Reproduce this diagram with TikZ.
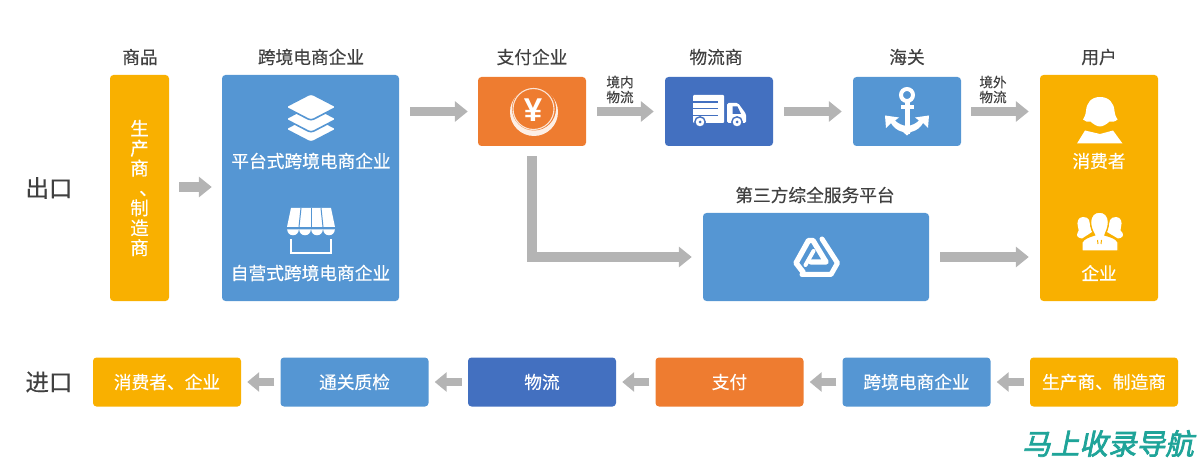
\documentclass[tikz,border=0pt]{standalone}
\usepackage{fontspec}
\usetikzlibrary{arrows.meta}
\setmainfont[FakeBold=0.35]{Noto Sans CJK SC}
\newfontfamily\latinbold[Scale=1]{Liberation Sans Bold}
\newfontfamily\brandfont[FakeSlant=0.2,FakeBold=2.5]{Noto Sans CJK SC}
\definecolor{skyblue}{HTML}{5596D3}
\definecolor{deepblue}{HTML}{4370C0}
\definecolor{burnt}{HTML}{EE7C30}
\definecolor{amber}{HTML}{F9B000}
\definecolor{flowgray}{HTML}{B4B4B4}
\definecolor{ink}{HTML}{404040}
\definecolor{teal}{HTML}{1FA499}
\tikzset{
  box/.style={rectangle,rounded corners=3.5pt,fill=#1,inner sep=0pt},
  heading/.style={inner sep=0pt,text=ink,font=\fontsize{17.7}{20}\selectfont},
  side/.style={inner sep=0pt,text=ink,font=\fontsize{23.5}{26}\selectfont},
  small/.style={inner sep=0pt,text=ink,align=center,font=\fontsize{13.6}{15}\selectfont},
  inbox/.style={inner sep=0pt,text=white,font=\fontsize{17.7}{20}\selectfont},
  flow/.style={draw=flowgray,line width=9.5pt,-{Triangle[length=13pt,width=20pt]},line join=miter},
  backflow/.style={draw=flowgray,line width=8.5pt,-{Triangle[length=12pt,width=19pt]},shorten <=6pt,shorten >=6pt},
  glyph/.style={fill=white,draw=none},
}
\begin{document}
\begin{tikzpicture}[x=1pt,y=-1pt]
\useasboundingbox (0,0) rectangle (1200,465);

% Export row: boxes
\node[box=amber,minimum width=59pt,minimum height=226pt] (maker) at (139.5,188) {};
\node[box=skyblue,minimum width=177pt,minimum height=226pt] (seller) at (310.5,188) {};
\node[box=burnt,minimum width=108pt,minimum height=69pt] (pay) at (532,111.5) {};
\node[box=deepblue,minimum width=108pt,minimum height=69pt] (carrier) at (719,111.5) {};
\node[box=skyblue,minimum width=108pt,minimum height=69pt] (customs) at (907,111.5) {};
\node[box=amber,minimum width=118pt,minimum height=226pt] (user) at (1099,188) {};
\node[box=skyblue,minimum width=226pt,minimum height=88pt] (third) at (816,257) {};

% Export row: headings and labels
\node[side] (outlabel) at (49,188) {出口};
\node[heading] (h1) at (140,57) {商品};
\node[heading] (h2) at (311,57) {跨境电商企业};
\node[heading] (h3) at (532,57) {支付企业};
\node[heading] (h4) at (716,57) {物流商};
\node[heading] (h5) at (907,57) {海关};
\node[heading] (h6) at (1099,57) {用户};
\node[heading] (h7) at (815,195) {第三方综全服务平台};
\node[small] (domestic) at (620,89.5) {境内\\物流};
\node[small] (overseas) at (993,89.5) {境外\\物流};
\node[inbox,align=center,font=\fontsize{18.5}{19.9}\selectfont] (makertext) at (139.5,188) {生\\产\\商\\\hspace*{18pt}、\\制\\造\\商};
\node[inbox] (t1) at (311,161) {平台式跨境电商企业};
\node[inbox] (t2) at (310.5,273) {自营式跨境电商企业};
\node[inbox] (t3) at (1099,161) {消费者};
\node[inbox] (t4) at (1099,273) {企业};

% Export row: connectors
\draw[flow,shorten <=10pt,shorten >=10pt] (maker.east |- 0,187) -- (seller.west |- 0,187);
\draw[flow,shorten <=11pt,shorten >=10pt] (seller.east |- pay.west) -- (pay.west);
\draw[flow,shorten <=11pt,shorten >=11pt] (pay.east) -- (carrier.west);
\draw[flow,shorten <=11pt,shorten >=11pt] (carrier.east) -- (customs.west);
\draw[flow,shorten <=10pt,shorten >=11pt] (customs.east) -- (user.west |- customs.east);
\draw[flow,shorten <=10pt,shorten >=11pt] (pay.south) |- (third.west);
\draw[flow,shorten <=11pt,shorten >=11pt] (third.east) -- (user.west |- third.east);

% Import row
\node[side] (inlabel) at (49,382) {进口};
\node[box=amber,minimum width=148pt,minimum height=49pt] (b1) at (167,382) {};
\node[box=skyblue,minimum width=148pt,minimum height=49pt] (b2) at (354.5,382) {};
\node[box=deepblue,minimum width=148pt,minimum height=49pt] (b3) at (542,382) {};
\node[box=burnt,minimum width=148pt,minimum height=49pt] (b4) at (729.5,382) {};
\node[box=skyblue,minimum width=148pt,minimum height=49pt] (b5) at (916.5,382) {};
\node[box=amber,minimum width=148pt,minimum height=49pt] (b6) at (1104,382) {};
\node[inbox] at (b1) {消费者、企业};
\node[inbox] at (b2) {通关质检};
\node[inbox] at (b3) {物流};
\node[inbox] at (b4) {支付};
\node[inbox] at (b5) {跨境电商企业};
\node[inbox] at (b6) {生产商、制造商};
\draw[backflow] (b6.west) -- (b5.east);
\draw[backflow] (b5.west) -- (b4.east);
\draw[backflow] (b4.west) -- (b3.east);
\draw[backflow] (b3.west) -- (b2.east);
\draw[backflow] (b2.west) -- (b1.east);

% Layer stack icon
\foreach \yy in {129,119,107}{
  \draw[fill=white,draw=skyblue,line width=1.6pt,rounded corners=3pt]
    (285,\yy) -- (311,\yy-13.5) -- (337,\yy) -- (311,\yy+13.5) -- cycle;
}

% Shop awning icon
\fill[white] (291,208) -- (331,208) -- (335,227) -- (287,227) -- cycle;
\foreach \xx in {293,305,317,329}{
  \fill[white] (\xx-5.8,229.5) arc[start angle=180,end angle=360,radius=5.8pt] -- cycle;
}
\foreach \a/\b in {301/299,311/311,321/323}{
  \draw[skyblue,line width=1pt] (\a,208) -- (\b,227);
}
\draw[white,line width=2.6pt] (291,239) -- (291,253) -- (331,253) -- (331,239);

% Coin icon
\fill[white!88!burnt] (534,112) circle[radius=24];
\fill[burnt] (534,108.5) circle[radius=22];
\draw[white!80!burnt,line width=1.1pt] (533.5,109) circle[radius=20.5];
\node[inner sep=0pt,text=white,font=\latinbold\fontsize{33}{33}\selectfont] (yen) at (533,110) {¥};

% Truck icon
\fill[white,rounded corners=1pt] (693,95) rectangle (724,123);
\foreach \yy in {102,108.5,115.5}{\draw[deepblue,line width=1.4pt] (693,\yy) -- (718,\yy);}
\fill[white,rounded corners=1.5pt] (727,103) -- (738,103) -- (746,114) -- (746,123) -- (727,123) -- cycle;
\fill[deepblue] (732.5,106.5) -- (737.5,106.5) -- (741,114) -- (732.5,114) -- cycle;
\foreach \xx in {700,737}{
  \fill[white,draw=deepblue,line width=1.4pt] (\xx,122) circle[radius=5.2];
  \fill[deepblue] (\xx,122) circle[radius=1.5];
}

% Anchor icon
\draw[white,line width=4pt] (907,95) circle[radius=6];
\fill[white] (904.5,102) rectangle (909.5,134);
\fill[white] (900.5,105.5) rectangle (913.5,109.5);
\fill[white] (907,135.5) -- (903,132) .. controls (897,130.5) and (893,127) .. (891,123)
  -- (886,128) -- (885,115.5) -- (899,117.5) -- (895,120.5) .. controls (898,123.5) and (902,125.5) .. (907,126)
  .. controls (912,125.5) and (916,123.5) .. (919,120.5) -- (915,117.5) -- (929,115.5) -- (928,128)
  -- (923,123) .. controls (921,127) and (917,130.5) .. (911,132) -- cycle;

% Triangular platform logo
\begin{scope}[draw=white,line cap=round,line join=round]
\draw[line width=5.4pt] (803,272) -- (796,263) -- (808.5,240.5) -- (813,240.5) -- (826,262) -- (811,262);
\draw[line width=5pt] (822,239) -- (837.5,263) -- (831,274.5) -- (802,274.5);
\draw[line width=4pt] (813.5,251) -- (805.5,265);
\end{scope}

% Consumer icon
\fill[white] (1100,97) .. controls (1109,97) and (1114,103) .. (1114.5,111)
  .. controls (1115,115) and (1116,117) .. (1117.5,119.5) .. controls (1115,122) and (1112,122) .. (1109.5,121.5)
  .. controls (1107,124) and (1103,126.5) .. (1100,126.5) .. controls (1097,126.5) and (1093,124) .. (1090.5,121.5)
  .. controls (1088,122) and (1085,122) .. (1083,119.5) .. controls (1084.5,117) and (1085.5,115) .. (1086,111)
  .. controls (1086.5,103) and (1091,97) .. (1100,97) -- cycle;
\fill[white] (1085,130.5) -- (1100,134) -- (1113,130.5) -- (1122.5,143.5) -- (1077,143.5) -- cycle;

% Corporate group icon
\fill[white] (1083,217) .. controls (1078,217) and (1076.5,222) .. (1078,227) .. controls (1079,230) and (1079,231) .. (1077.5,233)
  .. controls (1076,236) and (1078,238) .. (1082,238.5) -- (1092,232) -- (1089,220) .. controls (1088,218) and (1086,217) .. (1083,217) -- cycle;
\fill[white] (1116,217) .. controls (1121,217) and (1122.5,222) .. (1121,227) .. controls (1120,230) and (1120,231) .. (1122.5,233)
  .. controls (1124,236) and (1122,238) .. (1118,238.5) -- (1107,232) -- (1110,220) .. controls (1111,218) and (1113,217) .. (1116,217) -- cycle;
\draw[amber,line width=1.4pt,fill=white] (1099.5,212) .. controls (1105,212) and (1108.5,216) .. (1108.5,222)
  .. controls (1108.5,228) and (1106,232) .. (1105,235) .. controls (1110,236.5) and (1116,238) .. (1118,242)
  -- (1118,251) -- (1082,251) -- (1082,242) .. controls (1084,238) and (1090,236.5) .. (1094.5,235)
  .. controls (1093,232) and (1090.5,228) .. (1090.5,222) .. controls (1090.5,216) and (1094,212) .. (1099.5,212) -- cycle;
\draw[amber,line width=1pt] (1097.5,240) -- (1098,244) (1101.5,240) -- (1101,244);

% Brand mark
\node[inner sep=0pt,anchor=west,text=teal,font=\brandfont\fontsize{28.6}{30}\selectfont] (brand) at (1022,443.5) {马上收录导航};
\end{tikzpicture}
\end{document}
